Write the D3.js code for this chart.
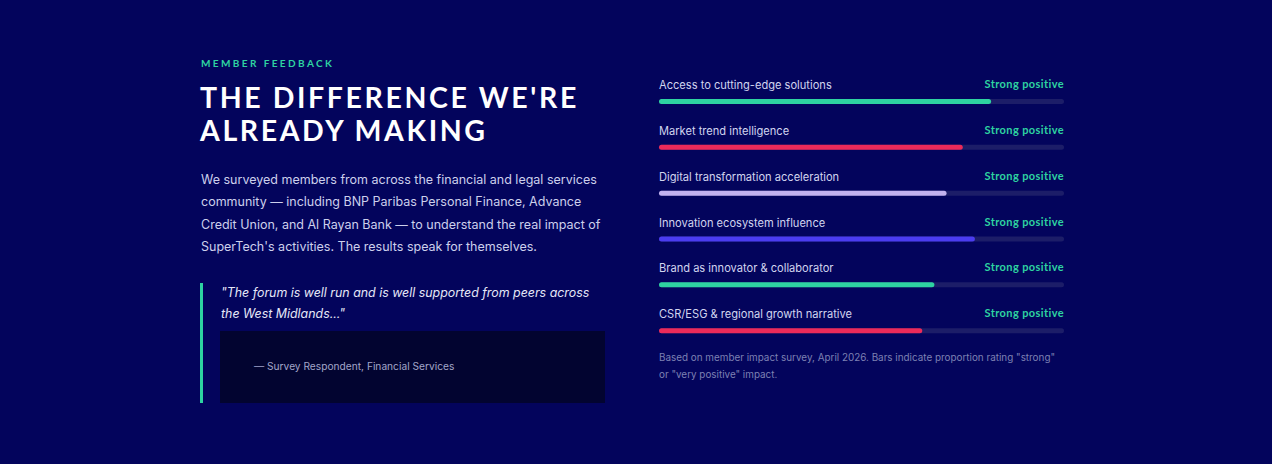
<!DOCTYPE html>
<html><head><meta charset="utf-8">
<script src="https://cdn.jsdelivr.net/npm/d3@7"></script>
<style>
body{margin:0;background:#03045c;}
svg{display:block;font-family:"DejaVu Sans",sans-serif;}
</style></head>
<body><svg width="1272" height="464"></svg>
<script>
const categories = ["Access to cutting-edge solutions","Market trend intelligence","Digital transformation acceleration","Innovation ecosystem influence","Brand as innovator & collaborator","CSR/ESG & regional growth narrative"];
const values = [0.82, 0.75, 0.71, 0.78, 0.68, 0.65];
const ratings = ["Strong positive","Strong positive","Strong positive","Strong positive","Strong positive","Strong positive"];
const colors = ["#2ed3a1","#ec2a5a","#c2b2ef","#4b3cf0","#2ed3a1","#ec2a5a"];
const bodyLines = ["We surveyed members from across the financial and legal services","community \u2014 including BNP Paribas Personal Finance, Advance","Credit Union, and Al Rayan Bank \u2014 to understand the real impact of","SuperTech's activities. The results speak for themselves."];
const quoteLines = ["\"The forum is well run and is well supported from peers across","the West Midlands...\""];
const noteLines = ["Based on member impact survey, April 2026. Bars indicate proportion rating \"strong\"","or \"very positive\" impact."];

const svg = d3.select("svg");
svg.append("rect").attr("width",1272).attr("height",464).attr("fill","#03045c");

// left column
svg.append("text").attr("x",201).attr("y",67).attr("fill","#2ed3a1")
  .attr("font-size",10).attr("font-weight",700).attr("letter-spacing",2.4)
  .style("font-family","Lato").text("MEMBER FEEDBACK");
["THE DIFFERENCE WE'RE","ALREADY MAKING"].forEach((t,i)=>{
  svg.append("text").attr("x",200).attr("y",108+i*33).attr("fill","#ffffff")
    .attr("font-size",28.5).attr("font-weight",700).attr("letter-spacing",2.6)
    .style("font-family","Lato").text(t);
});
bodyLines.forEach((t,i)=>{
  svg.append("text").attr("x",201).attr("y",184+i*22.3).attr("fill","#cdd0ec")
    .attr("font-size",12.5).style("font-family","Inter").text(t);
});
svg.append("rect").attr("x",200).attr("y",283).attr("width",3).attr("height",120).attr("fill","#2ed3a1");
quoteLines.forEach((t,i)=>{
  svg.append("text").attr("x",221).attr("y",297+i*21).attr("fill","#e6e8f8")
    .attr("font-size",12.4).attr("font-style","italic").style("font-family","Inter").text(t);
});
svg.append("rect").attr("x",220).attr("y",331).attr("width",385).attr("height",72).attr("fill","#020430");
svg.append("text").attr("x",254).attr("y",370).attr("fill","#a3a6c9")
  .attr("font-size",10.2).style("font-family","Inter").text("\u2014 Survey Respondent, Financial Services");

// chart
const x = d3.scaleLinear().domain([0,1]).range([659,1064]);
const y = d3.scaleBand().domain(categories).range([78,353]).paddingInner(0);
const g = svg.append("g");
const row = g.selectAll("g").data(categories).join("g")
  .attr("transform",d=>`translate(0,${y(d)})`);
row.append("text").attr("x",x(0)).attr("y",11).attr("fill","#d2d5ef")
  .attr("font-size",11.1).style("font-family","Inter").text(d=>d);
row.append("text").attr("x",x(1)).attr("y",10).attr("text-anchor","end").attr("fill","#2ed3a1")
  .attr("font-size",11).attr("font-weight",700).style("font-family","Lato")
  .attr("letter-spacing",0.4).text((d,i)=>ratings[i]);
row.append("rect").attr("x",x(0)).attr("y",21).attr("width",x(1)-x(0)).attr("height",5)
  .attr("rx",2.5).attr("fill","#1c1d68");
row.append("rect").attr("x",x(0)).attr("y",21).attr("width",(d,i)=>x(values[i])-x(0)).attr("height",5)
  .attr("rx",2.5).attr("fill",(d,i)=>colors[i]);
noteLines.forEach((t,i)=>{
  svg.append("text").attr("x",659).attr("y",361+i*17).attr("fill","#7d81b3")
    .attr("font-size",9.9).style("font-family","Inter").text(t);
});
</script></body></html>
